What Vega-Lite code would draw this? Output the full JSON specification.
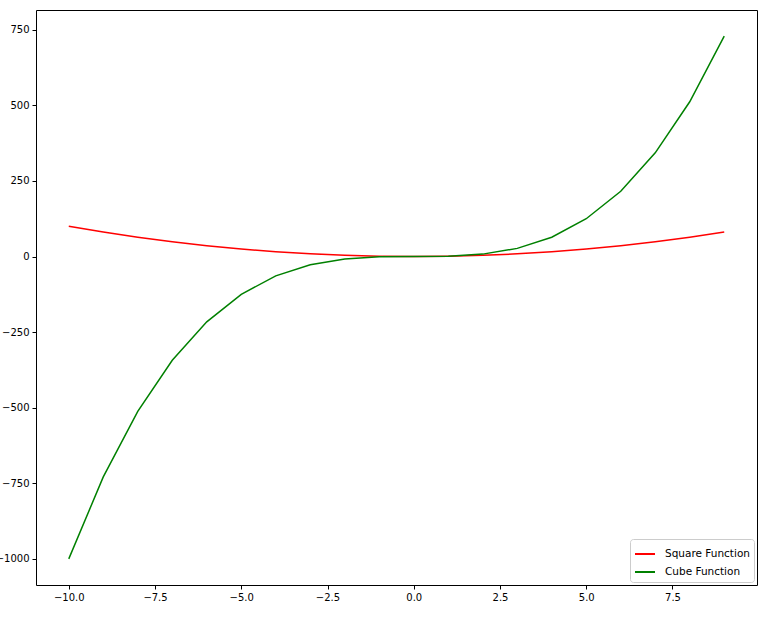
{
  "$schema": "https://vega.github.io/schema/vega-lite/v6.json",
  "width": 721,
  "height": 575,
  "autosize": {"type": "none"},
  "padding": {"left": 36, "top": 10, "right": 9, "bottom": 35},
  "background": "white",
  "config": {
    "font": "DejaVu Sans",
    "view": {"stroke": "black", "strokeWidth": 1},
    "axis": {
      "grid": false,
      "domain": false,
      "tickColor": "black",
      "tickSize": 4,
      "labelColor": "black",
      "labelFontSize": 10,
      "labelFont": "DejaVu Sans",
      "title": null
    }
  },
  "data": {
    "values": [
      {"x": -10, "y": 100, "series": "Square Function"},
      {"x": -9, "y": 81, "series": "Square Function"},
      {"x": -8, "y": 64, "series": "Square Function"},
      {"x": -7, "y": 49, "series": "Square Function"},
      {"x": -6, "y": 36, "series": "Square Function"},
      {"x": -5, "y": 25, "series": "Square Function"},
      {"x": -4, "y": 16, "series": "Square Function"},
      {"x": -3, "y": 9, "series": "Square Function"},
      {"x": -2, "y": 4, "series": "Square Function"},
      {"x": -1, "y": 1, "series": "Square Function"},
      {"x": 0, "y": 0, "series": "Square Function"},
      {"x": 1, "y": 1, "series": "Square Function"},
      {"x": 2, "y": 4, "series": "Square Function"},
      {"x": 3, "y": 9, "series": "Square Function"},
      {"x": 4, "y": 16, "series": "Square Function"},
      {"x": 5, "y": 25, "series": "Square Function"},
      {"x": 6, "y": 36, "series": "Square Function"},
      {"x": 7, "y": 49, "series": "Square Function"},
      {"x": 8, "y": 64, "series": "Square Function"},
      {"x": 9, "y": 81, "series": "Square Function"},
      {"x": -10, "y": -1000, "series": "Cube Function"},
      {"x": -9, "y": -729, "series": "Cube Function"},
      {"x": -8, "y": -512, "series": "Cube Function"},
      {"x": -7, "y": -343, "series": "Cube Function"},
      {"x": -6, "y": -216, "series": "Cube Function"},
      {"x": -5, "y": -125, "series": "Cube Function"},
      {"x": -4, "y": -64, "series": "Cube Function"},
      {"x": -3, "y": -27, "series": "Cube Function"},
      {"x": -2, "y": -8, "series": "Cube Function"},
      {"x": -1, "y": -1, "series": "Cube Function"},
      {"x": 0, "y": 0, "series": "Cube Function"},
      {"x": 1, "y": 1, "series": "Cube Function"},
      {"x": 2, "y": 8, "series": "Cube Function"},
      {"x": 3, "y": 27, "series": "Cube Function"},
      {"x": 4, "y": 64, "series": "Cube Function"},
      {"x": 5, "y": 125, "series": "Cube Function"},
      {"x": 6, "y": 216, "series": "Cube Function"},
      {"x": 7, "y": 343, "series": "Cube Function"},
      {"x": 8, "y": 512, "series": "Cube Function"},
      {"x": 9, "y": 729, "series": "Cube Function"}
    ]
  },
  "mark": {"type": "line", "strokeWidth": 1.5, "clip": true},
  "encoding": {
    "x": {
      "field": "x",
      "type": "quantitative",
      "scale": {"domain": [-10.95, 9.95], "nice": false, "zero": false},
      "axis": {"values": [-10, -7.5, -5, -2.5, 0, 2.5, 5, 7.5], "format": ".1f", "labelPadding": 3}
    },
    "y": {
      "field": "y",
      "type": "quantitative",
      "scale": {"domain": [-1086.45, 815.45], "nice": false, "zero": false},
      "axis": {"values": [-1000, -750, -500, -250, 0, 250, 500, 750], "format": "d", "labelPadding": 3}
    },
    "color": {
      "field": "series",
      "type": "nominal",
      "scale": {"domain": ["Square Function", "Cube Function"], "range": ["#ff0000", "#008000"]},
      "legend": {
        "title": null,
        "orient": "bottom-right",
        "offset": 3,
        "symbolType": "stroke",
        "symbolSize": 400,
        "symbolStrokeWidth": 2,
        "labelFontSize": 10.5,
        "labelColor": "black",
        "labelFont": "DejaVu Sans",
        "labelOffset": 9,
        "rowPadding": 1,
        "padding": 4,
        "strokeColor": "#cccccc",
        "fillColor": "white",
        "cornerRadius": 3
      }
    },
    "detail": {"field": "series"}
  }
}
